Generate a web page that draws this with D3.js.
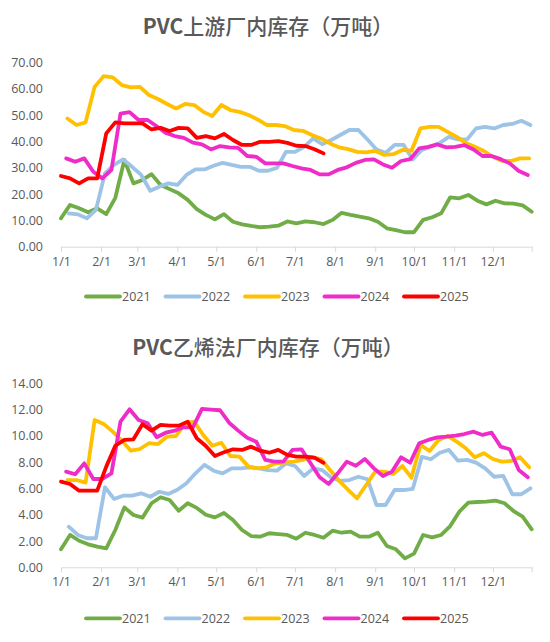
<!DOCTYPE html>
<html>
<head>
<meta charset="utf-8">
<script src="https://cdn.jsdelivr.net/npm/d3@7"></script>
<style>
  html, body { margin: 0; padding: 0; background: #fff; }
  svg { display: block; }
</style>
</head>
<body>
<svg id="chart" width="550" height="642"></svg>
<script>
// ---------------- DATA ----------------
const years = ["2021", "2022", "2023", "2024", "2025"];
const startDays = [0, 6, 5, 4, 0];          // day-of-year of each series' first weekly reading
const monthLabels = ["1/1","2/1","3/1","4/1","5/1","6/1","7/1","8/1","9/1","10/1","11/1","12/1"];

const upstreamTitle = "上游厂内库存（万吨）";
const upstreamTicks = [0, 10, 20, 30, 40, 50, 60, 70];
const up2021 = [10.8, 15.9, 14.6, 13.1, 14.6, 12.4, 18.6, 33.0, 24.1, 25.4, 27.6, 23.5, 21.9, 20.3, 17.8, 14.3, 12.1, 10.4, 12.4, 9.5, 8.5, 7.9, 7.4, 7.6, 8.0, 9.6, 8.9, 9.6, 9.3, 8.6, 10.2, 12.9, 12.1, 11.4, 10.8, 9.5, 7.0, 6.3, 5.5, 5.5, 10.2, 11.2, 12.7, 18.8, 18.4, 19.7, 17.5, 16.1, 17.5, 16.5, 16.4, 15.7, 13.3];
const up2022 = [12.7, 12.3, 10.8, 14.0, 27.9, 31.1, 33.2, 30.4, 27.3, 21.3, 22.8, 24.1, 23.5, 27.3, 29.4, 29.4, 30.8, 31.9, 31.1, 30.4, 30.4, 28.9, 28.9, 30.0, 36.1, 36.1, 38.0, 41.2, 39.0, 40.6, 42.5, 44.4, 44.4, 40.8, 37.0, 35.7, 38.7, 38.7, 33.2, 36.8, 38.0, 39.5, 41.8, 40.8, 40.8, 45.0, 45.6, 45.0, 46.3, 46.7, 47.9, 46.3];
const up2023 = [48.8, 46.3, 47.3, 60.8, 64.9, 64.4, 61.5, 60.6, 60.8, 57.7, 56.2, 54.3, 52.6, 54.3, 53.9, 51.3, 49.7, 53.9, 52.0, 51.3, 50.1, 48.4, 46.3, 46.3, 45.9, 44.4, 44.1, 42.5, 41.2, 39.3, 37.8, 37.1, 36.1, 35.9, 36.5, 34.9, 35.2, 36.8, 36.5, 45.0, 45.6, 45.6, 43.7, 41.8, 39.5, 38.0, 36.4, 34.2, 32.7, 32.6, 33.6, 33.6];
const up2024 = [33.6, 32.3, 33.6, 28.5, 26.0, 29.2, 50.6, 51.2, 48.2, 48.2, 45.8, 43.3, 42.1, 41.4, 39.6, 38.9, 37.0, 38.3, 37.8, 37.6, 34.5, 34.2, 31.7, 31.7, 31.7, 30.7, 29.8, 29.2, 27.5, 27.5, 29.2, 30.2, 31.9, 33.0, 33.2, 31.3, 30.0, 32.6, 33.3, 37.4, 38.0, 38.9, 37.8, 38.0, 38.6, 37.0, 34.5, 34.5, 33.3, 31.7, 28.8, 27.3];
const up2025 = [26.9, 26.0, 24.1, 26.0, 26.0, 43.1, 47.3, 46.9, 46.9, 46.9, 44.6, 45.2, 44.0, 45.2, 45.0, 41.4, 42.1, 41.2, 42.9, 40.6, 38.7, 38.7, 39.9, 39.9, 40.2, 39.5, 38.4, 38.3, 37.1, 35.5];

const ethyleneTitle = "乙烯法厂内库存（万吨）";
const ethyleneTicks = [0, 2, 4, 6, 8, 10, 12, 14];
const eth2021 = [1.37, 2.46, 2.02, 1.75, 1.57, 1.44, 2.84, 4.56, 3.98, 3.78, 4.87, 5.33, 5.12, 4.31, 4.87, 4.52, 4.0, 3.80, 4.13, 3.60, 2.84, 2.38, 2.33, 2.59, 2.53, 2.46, 2.18, 2.63, 2.46, 2.25, 2.79, 2.63, 2.71, 2.33, 2.33, 2.63, 1.62, 1.37, 0.68, 1.04, 2.46, 2.28, 2.46, 3.14, 4.23, 4.92, 4.97, 4.99, 5.07, 4.87, 4.28, 3.85, 2.89];
const eth2022 = [3.09, 2.46, 2.21, 2.21, 6.09, 5.20, 5.45, 5.45, 5.63, 5.37, 5.75, 5.58, 5.9, 6.39, 7.15, 7.79, 7.35, 7.15, 7.53, 7.53, 7.61, 7.53, 7.40, 7.35, 7.91, 7.71, 6.95, 7.53, 7.40, 6.82, 6.57, 6.64, 6.89, 6.70, 4.74, 4.74, 5.88, 5.88, 5.96, 8.40, 8.22, 8.72, 8.93, 8.11, 8.17, 7.96, 7.53, 6.89, 6.95, 5.56, 5.56, 6.01];
const eth2023 = [6.64, 6.64, 6.44, 11.21, 10.91, 10.32, 9.64, 8.87, 9.0, 9.44, 9.38, 9.94, 9.99, 10.96, 11.08, 10.07, 9.25, 9.48, 8.47, 8.42, 7.66, 7.53, 7.61, 7.91, 7.96, 8.04, 8.17, 8.37, 8.24, 7.4, 6.6, 5.9, 5.25, 6.26, 7.28, 7.28, 7.10, 7.71, 6.82, 9.31, 8.85, 9.69, 9.99, 9.56, 9.06, 8.37, 8.68, 8.24, 8.04, 8.09, 8.37, 7.61];
const eth2024 = [7.28, 7.08, 7.91, 6.72, 6.72, 7.15, 11.08, 12.02, 11.21, 10.96, 9.89, 10.24, 10.4, 10.65, 10.65, 12.05, 12.0, 11.95, 11.0, 10.4, 9.85, 9.56, 8.17, 8.04, 8.04, 8.93, 8.98, 7.91, 6.85, 6.34, 7.15, 8.04, 7.73, 8.24, 7.53, 6.95, 7.28, 8.37, 7.96, 9.44, 9.69, 9.89, 9.94, 10.02, 10.14, 10.32, 10.07, 10.24, 9.18, 8.98, 7.40, 6.85];
const eth2025 = [6.52, 6.34, 5.83, 5.83, 5.83, 7.66, 9.25, 9.69, 9.74, 10.88, 10.40, 10.83, 10.78, 10.78, 11.08, 9.82, 9.23, 8.47, 8.75, 8.98, 8.93, 9.18, 8.87, 8.72, 8.93, 8.55, 8.42, 8.42, 8.34, 7.95];

const colors = ["#70AD47", "#9DC3E6", "#FFC000", "#F02CC8", "#FF0000"];

// ---------------- DRAW ----------------
const svg = d3.select("#chart");
const textColor = "#595959";
const axisColor = "#D9D9D9";
const numFont = "'Open Sans', 'Noto Sans', sans-serif";
const numSize = "12.5px";

const x = d3.scaleTime()
  .domain([new Date(2021, 0, 1), new Date(2021, 11, 31)])
  .range([61, 531.7]);

function toPoints(values, startDay) {
  return values.map((v, i) => ({ date: d3.timeDay.offset(new Date(2021, 0, 1), startDay + 7 * i), value: v }));
}

function drawChart(cfg) {
  const g = svg.append("g");
  const y = d3.scaleLinear().domain([cfg.ticks[0], cfg.ticks[cfg.ticks.length - 1]]).range([cfg.bottom, cfg.top]);

  // title
  const t = g.append("text")
    .attr("x", 268).attr("y", cfg.titleY)
    .attr("text-anchor", "middle")
    .attr("fill", textColor)
    .style("font-family", "'Noto Sans CJK SC', sans-serif")
    .style("font-size", "21px");
  t.append("tspan").text("PVC").style("font-weight", "bold");
  t.append("tspan").text(cfg.title).style("font-weight", "500");

  // y axis labels (no line)
  const yAxis = d3.axisLeft(y).tickValues(cfg.ticks).tickSize(0).tickPadding(0).tickFormat(d3.format(".2f"));
  const ya = g.append("g").attr("transform", "translate(43,0)").call(yAxis);
  ya.select(".domain").remove();
  ya.selectAll("text").attr("fill", textColor).style("font-family", numFont).style("font-size", numSize);

  // x axis
  const monthDates = d3.range(12).map(m => new Date(2021, m, 1));
  const xAxis = d3.axisBottom(x).tickValues(monthDates.concat([new Date(2021, 11, 31)]))
    .tickSize(5).tickSizeOuter(0).tickPadding(5)
    .tickFormat((d, i) => i < monthLabels.length ? monthLabels[i] : "");
  const xa = g.append("g").attr("transform", `translate(0,${cfg.bottom})`).call(xAxis);
  xa.select(".domain").attr("stroke", axisColor);
  xa.selectAll(".tick line").attr("stroke", axisColor);
  xa.selectAll("text").attr("fill", textColor).style("font-family", numFont).style("font-size", numSize);

  // lines
  const line = d3.line().x(d => x(d.date)).y(d => y(d.value));
  cfg.series.forEach((vals, i) => {
    g.append("path")
      .datum(toPoints(vals, startDays[i]))
      .attr("d", line)
      .attr("fill", "none")
      .attr("stroke", colors[i])
      .attr("stroke-width", 3.8)
      .attr("stroke-linejoin", "round")
      .attr("stroke-linecap", "round");
  });

  // legend
  const leg = g.append("g").attr("transform", `translate(0,${cfg.legendY})`);
  years.forEach((yr, i) => {
    const lx = 86 + i * 79.5;
    leg.append("line").attr("x1", lx).attr("x2", lx + 34).attr("y1", 0).attr("y2", 0)
      .attr("stroke", colors[i]).attr("stroke-width", 3.8).attr("stroke-linecap", "round");
    leg.append("text").attr("x", lx + 36).attr("y", 0).attr("dy", "0.35em")
      .attr("fill", textColor).style("font-family", numFont).style("font-size", numSize).text(yr);
  });
}

drawChart({
  title: upstreamTitle, ticks: upstreamTicks, top: 62.7, bottom: 246.7,
  titleY: 34, legendY: 296.5,
  series: [up2021, up2022, up2023, up2024, up2025]
});
drawChart({
  title: ethyleneTitle, ticks: ethyleneTicks, top: 383.3, bottom: 567.3,
  titleY: 355, legendY: 618.3,
  series: [eth2021, eth2022, eth2023, eth2024, eth2025]
});
</script>
</body>
</html>
